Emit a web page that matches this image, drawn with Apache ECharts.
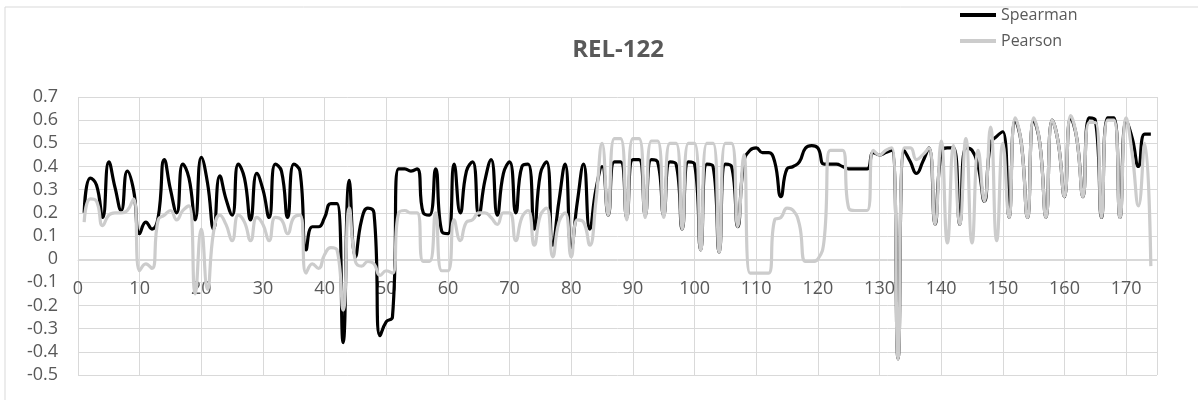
<!DOCTYPE html>
<html>
<head>
<meta charset="utf-8">
<script src="https://cdn.jsdelivr.net/npm/echarts/dist/echarts.min.js"></script>
<style>
  html, body { margin: 0; padding: 0; background: #fff; }
  #chart { width: 1198px; height: 400px; }
</style>
</head>
<body>
<div id="chart"></div>
<script>
// x positions of the samples (1..174)
var xValues = [];
for (var i = 1; i <= 174; i++) xValues.push(i);

var spearman = [
  0.20, 0.35, 0.32, 0.18, 0.42, 0.31, 0.21, 0.38, 0.30, 0.11,
  0.16, 0.13, 0.18, 0.43, 0.30, 0.20, 0.41, 0.35, 0.17, 0.44,
  0.33, 0.13, 0.36, 0.26, 0.19, 0.41, 0.35, 0.17, 0.37, 0.30,
  0.18, 0.41, 0.38, 0.18, 0.41, 0.38, 0.04, 0.14, 0.14, 0.18,
  0.24, 0.24, -0.36, 0.34, 0.01, 0.17, 0.22, 0.20, -0.33, -0.27,
  -0.25, 0.39, 0.39, 0.38, 0.39, 0.20, 0.19, 0.39, 0.12, 0.11,
  0.41, 0.20, 0.38, 0.42, 0.19, 0.34, 0.43, 0.19, 0.37, 0.42,
  0.20, 0.40, 0.41, 0.13, 0.37, 0.42, 0.06, 0.25, 0.41, 0.05,
  0.25, 0.41, 0.13, 0.30, 0.40, 0.19, 0.42, 0.42, 0.18, 0.43,
  0.43, 0.19, 0.43, 0.42, 0.19, 0.42, 0.41, 0.13, 0.42, 0.41,
  0.04, 0.41, 0.40, 0.03, 0.41, 0.40, 0.14, 0.42, 0.47, 0.48,
  0.46, 0.46, 0.42, 0.27, 0.39, 0.40, 0.42, 0.48, 0.49, 0.48,
  0.41, 0.41, 0.41, 0.40, 0.39, 0.39, 0.39, 0.39, 0.46, 0.45,
  0.46, 0.47, -0.43, 0.47, 0.42, 0.37, 0.42, 0.48, 0.15, 0.46,
  0.48, 0.48, 0.15, 0.48, 0.47, 0.40, 0.25, 0.50, 0.53, 0.55,
  0.18, 0.60, 0.50, 0.18, 0.60, 0.50, 0.18, 0.60, 0.50, 0.27,
  0.61, 0.52, 0.27, 0.61, 0.60, 0.18, 0.61, 0.61, 0.18, 0.60,
  0.52, 0.40, 0.54, 0.54
];

var pearson = [
  0.16, 0.26, 0.25, 0.145, 0.19, 0.20, 0.20, 0.21, 0.26, -0.05,
  -0.02, -0.04, 0.17, 0.19, 0.21, 0.17, 0.21, 0.23, -0.15, 0.13,
  -0.13, 0.12, 0.19, 0.15, 0.08, 0.19, 0.16, 0.08, 0.18, 0.15,
  0.08, 0.18, 0.17, 0.11, 0.18, 0.19, -0.06, -0.02, -0.04, 0.02,
  0.05, 0.04, -0.22, 0.22, -0.01, -0.03, -0.01, -0.02, -0.07, -0.05,
  -0.06, 0.20, 0.21, 0.20, 0.20, -0.01, -0.01, 0.20, -0.05, -0.05,
  0.17, 0.08, 0.16, 0.17, 0.20, 0.20, 0.18, 0.15, 0.20, 0.20,
  0.08, 0.18, 0.21, 0.06, 0.19, 0.22, 0.01, 0.16, 0.20, 0.01,
  0.17, 0.16, 0.06, 0.25, 0.50, 0.19, 0.52, 0.52, 0.17, 0.52,
  0.52, 0.18, 0.51, 0.51, 0.18, 0.50, 0.50, 0.13, 0.50, 0.50,
  0.04, 0.50, 0.50, 0.03, 0.50, 0.50, 0.14, 0.45, -0.06, -0.06,
  -0.06, -0.06, 0.17, 0.18, 0.22, 0.21, 0.15, -0.01, -0.01, 0.00,
  0.08, 0.47, 0.47, 0.47, 0.22, 0.21, 0.21, 0.21, 0.47, 0.45,
  0.47, 0.48, -0.43, 0.48, 0.48, 0.43, 0.45, 0.48, 0.15, 0.51,
  0.07, 0.49, 0.15, 0.52, 0.07, 0.47, 0.25, 0.57, 0.08, 0.50,
  0.18, 0.61, 0.50, 0.18, 0.61, 0.50, 0.18, 0.60, 0.50, 0.27,
  0.62, 0.52, 0.27, 0.59, 0.59, 0.18, 0.60, 0.60, 0.18, 0.61,
  0.45, 0.23, 0.50, -0.03
];

function pairs(ys) {
  return xValues.map(function (x, k) { return [x, ys[k]]; });
}

var chart = echarts.init(document.getElementById('chart'));
var textColor = '#595959';
var gridColor = '#d9d9d9';

var option = {
  animation: false,
  backgroundColor: '#fff',
  title: {
    text: 'REL-122',
    left: 613,
    top: 33,
    textAlign: 'center',
    textStyle: { color: textColor, fontSize: 24, fontWeight: 'bold', fontFamily: 'Open Sans' }
  },
  legend: {
    orient: 'vertical',
    left: 955,
    top: 2,
    itemGap: 10,
    itemWidth: 36,
    itemHeight: 4,
    icon: 'rect',
    textStyle: { color: textColor, fontSize: 16, fontFamily: 'Open Sans' },
    data: ['Spearman', 'Pearson']
  },
  graphic: [{
    type: 'rect',
    shape: { x: 5, y: 7, width: 1300, height: 500 },
    style: { fill: 'none', stroke: gridColor, lineWidth: 1 },
    silent: true
  }],
  grid: { left: 78, right: 41, top: 97, bottom: 25 },
  xAxis: {
    type: 'value',
    min: 0,
    max: 175,
    interval: 10,
    offset: -115, // labels sit next to the zero line, as in the original
    axisLine: { onZero: false, lineStyle: { color: gridColor } },
    axisTick: { show: false },
    axisLabel: { color: textColor, fontSize: 18, fontFamily: 'Open Sans', margin: 20, showMaxLabel: false },
    splitLine: { show: true, lineStyle: { color: gridColor } }
  },
  yAxis: {
    type: 'value',
    min: -0.5,
    max: 0.7,
    interval: 0.1,
    axisLine: { show: false },
    axisTick: { show: false },
    axisLabel: {
      color: textColor, fontSize: 18, fontFamily: 'Open Sans', margin: 20,
      formatter: function (v) { return String(Math.round(v * 10) / 10); }
    },
    splitLine: { lineStyle: { color: gridColor } }
  },
  series: [
    {
      name: 'Spearman',
      type: 'line',
      data: pairs(spearman),
      smooth: 0.5,
      showSymbol: false,
      itemStyle: { color: '#000000' },
      lineStyle: { color: '#000000', width: 3.2 }
    },
    {
      name: 'Pearson',
      type: 'line',
      data: pairs(pearson),
      smooth: 0.5,
      showSymbol: false,
      itemStyle: { color: '#cccccc' },
      lineStyle: { color: '#cccccc', width: 3.2 }
    }
  ]
};

chart.setOption(option);
</script>
</body>
</html>
